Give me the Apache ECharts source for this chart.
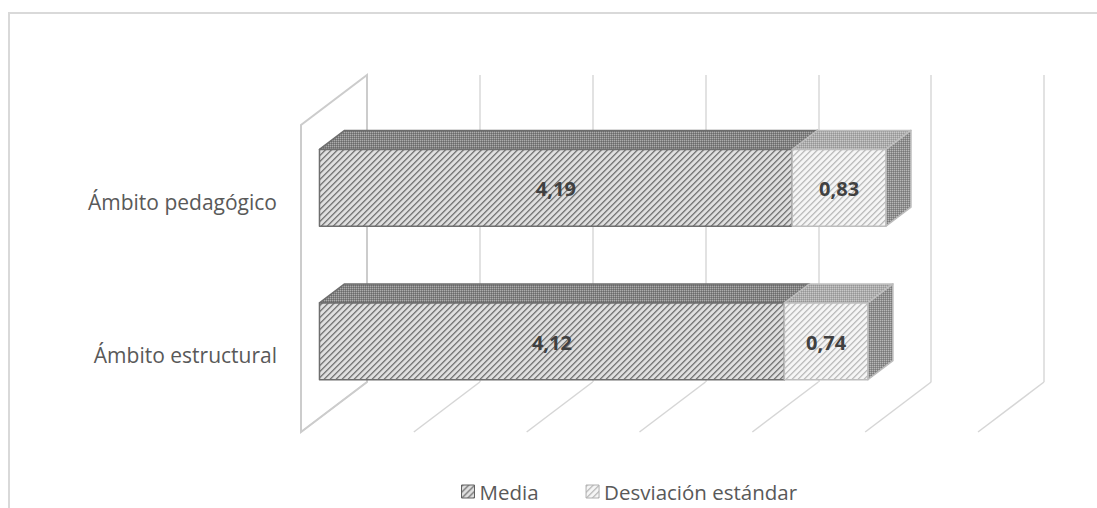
<!DOCTYPE html>
<html>
<head>
<meta charset="utf-8">
<script src="https://cdn.jsdelivr.net/npm/echarts@6/dist/echarts.min.js"></script>
<style>
  html, body { margin: 0; padding: 0; background: #ffffff; }
  #chart { width: 1097px; height: 508px; }
</style>
</head>
<body>
<div id="chart"></div>
<script>
// Chart data
const categories = ['Ámbito pedagógico', 'Ámbito estructural'];
const seriesNames = ['Media', 'Desviación estándar'];
const mediaValues = [4.19, 4.12];
const desviacionValues = [0.83, 0.74];
const valueTicks = [0, 1, 2, 3, 4, 5, 6];

// 3D projection: floor depth vector and the slice of depth occupied by the bars
const DEPTH_X = -66, DEPTH_Y = 50;
const BAR_FRONT = 0.72, BAR_BACK = 0.34;
const FONT = '"Open Sans", "Liberation Sans", sans-serif';

// Small bitmap tiles used as fill patterns
function makeTile(w, h, fn) {
  const c = document.createElement('canvas');
  c.width = w; c.height = h;
  const ctx = c.getContext('2d');
  const img = ctx.createImageData(w, h);
  for (let y = 0; y < h; y++) {
    for (let x = 0; x < w; x++) {
      const v = fn(x, y);
      const k = (y * w + x) * 4;
      img.data[k] = v; img.data[k + 1] = v; img.data[k + 2] = v; img.data[k + 3] = 255;
    }
  }
  ctx.putImageData(img, 0, 0);
  return { image: c, repeat: 'repeat' };
}
function stripes(levels) {
  return makeTile(6, 6, (x, y) => levels[(x + y) % 6]);
}
function dots(a, b, c) {
  return makeTile(4, 4, (x, y) => (x % 2 === 0 && y % 2 === 0) ? a : ((x + y) % 2 === 0 ? b : c));
}

const mediaFront = stripes([122, 150, 208, 224, 224, 210]);
const devFront = stripes([190, 206, 238, 246, 246, 238]);
const mediaTop = dots(172, 106, 132);
const devTop = dots(200, 150, 172);
const mediaSide = dots(170, 108, 132);
const devSide = dots(184, 120, 144);

function fmt(v) {
  return v.toFixed(2).replace('.', ',');
}

function boxRenderer(front, top, side, stroke) {
  return function (params, api) {
    const cat = api.value(2);
    const a = api.coord([api.value(0), cat]);
    const b = api.coord([api.value(1), cat]);
    const half = api.size([0, 1])[1] * 0.25;
    const fx = DEPTH_X * BAR_FRONT, fy = DEPTH_Y * BAR_FRONT;
    const dx = DEPTH_X * (BAR_BACK - BAR_FRONT), dy = DEPTH_Y * (BAR_BACK - BAR_FRONT);
    const x0 = a[0] + fx, x1 = b[0] + fx;
    const yT = a[1] + fy - half, yB = a[1] + fy + half;
    const edge = { stroke: stroke, lineWidth: 1.5, lineJoin: 'round' };
    return {
      type: 'group',
      children: [
        {
          type: 'polygon',
          shape: { points: [[x0, yT], [x1, yT], [x1 + dx, yT + dy], [x0 + dx, yT + dy]] },
          style: Object.assign({ fill: top }, edge)
        },
        {
          type: 'polygon',
          shape: { points: [[x1, yT], [x1 + dx, yT + dy], [x1 + dx, yB + dy], [x1, yB]] },
          style: Object.assign({ fill: side }, edge)
        },
        {
          type: 'rect',
          shape: { x: x0, y: yT, width: x1 - x0, height: yB - yT },
          style: Object.assign({ fill: front }, edge)
        },
        {
          type: 'text',
          x: (x0 + x1) / 2,
          y: (yT + yB) / 2 + 1,
          style: {
            text: fmt(api.value(3)),
            fill: '#404040',
            font: 'bold 20px ' + FONT,
            align: 'center',
            verticalAlign: 'middle'
          }
        }
      ]
    };
  };
}

// Side wall and floor lines of the 3D frame
function frameRenderer(params, api) {
  const cs = params.coordSys;
  const v = api.value(0);
  const x = api.coord([v, 0])[0];
  const bottom = cs.y + cs.height;
  const line = { stroke: '#d6d6d6', lineWidth: 1.5, fill: 'none' };
  const children = [{
    type: 'line',
    shape: { x1: x, y1: bottom, x2: x + DEPTH_X, y2: bottom + DEPTH_Y },
    style: line
  }];
  if (v === valueTicks[0]) {
    children.push({
      type: 'polygon',
      shape: { points: [[x, cs.y], [x, bottom], [x + DEPTH_X, bottom + DEPTH_Y], [x + DEPTH_X, cs.y + DEPTH_Y]] },
      style: { stroke: '#cccccc', lineWidth: 2, fill: 'none' }
    });
  }
  return { type: 'group', children: children };
}

// Category names, placed at the front edge of the floor
function categoryLabelRenderer(params, api) {
  const p = api.coord([0, api.value(1)]);
  return {
    type: 'text',
    x: p[0] + DEPTH_X - 24,
    y: p[1] + DEPTH_Y,
    style: {
      text: categories[api.value(1)],
      fill: '#595959',
      font: '21px ' + FONT,
      align: 'right',
      verticalAlign: 'middle'
    }
  };
}

const mediaData = mediaValues.map((v, i) => [0, v, i, v]);
const devData = desviacionValues.map((v, i) => [mediaValues[i], mediaValues[i] + v, i, v]);

const chart = echarts.init(document.getElementById('chart'), null, { renderer: 'svg' });
chart.setOption({
  animation: false,
  backgroundColor: '#ffffff',
  graphic: [{
    type: 'rect',
    shape: { x: 9, y: 13, width: 1200, height: 600 },
    style: { fill: 'none', stroke: '#d9d9d9', lineWidth: 2 },
    silent: true
  }],
  grid: { left: 367, right: 53, top: 75, bottom: 126 },
  xAxis: {
    type: 'value',
    min: valueTicks[0],
    max: valueTicks[valueTicks.length - 1],
    interval: 1,
    axisLine: { show: false },
    axisTick: { show: false },
    axisLabel: { show: false },
    splitLine: { show: true, lineStyle: { color: '#d9d9d9', width: 1.5 } }
  },
  yAxis: {
    type: 'category',
    data: categories,
    inverse: true,
    axisLine: { show: false },
    axisTick: { show: false },
    splitLine: { show: false },
    axisLabel: { show: false }
  },
  legend: {
    left: 456,
    top: 476,
    itemWidth: 13,
    itemHeight: 13,
    itemGap: 47,
    textStyle: { color: '#595959', fontSize: 20.5, fontFamily: FONT, padding: [0, 0, 0, 0] },
    data: [
      { name: seriesNames[0], icon: 'rect', itemStyle: { color: mediaFront, borderColor: '#606060', borderWidth: 1 } },
      { name: seriesNames[1], icon: 'rect', itemStyle: { color: devFront, borderColor: '#b0b0b0', borderWidth: 1 } }
    ]
  },
  series: [
    {
      type: 'custom',
      name: 'frame',
      silent: true,
      z: 1,
      renderItem: frameRenderer,
      encode: { x: 0 },
      data: valueTicks.map(v => [v])
    },
    {
      type: 'custom',
      name: 'categoryLabels',
      silent: true,
      z: 1,
      renderItem: categoryLabelRenderer,
      encode: { x: 0, y: 1 },
      data: categories.map((c, i) => [0, i])
    },
    {
      type: 'custom',
      name: seriesNames[0],
      z: 2,
      renderItem: boxRenderer(mediaFront, mediaTop, mediaSide, '#6e6e6e'),
      encode: { x: [0, 1], y: 2 },
      itemStyle: { color: '#8c8c8c' },
      data: mediaData
    },
    {
      type: 'custom',
      name: seriesNames[1],
      z: 3,
      renderItem: boxRenderer(devFront, devTop, devSide, '#bdbdbd'),
      encode: { x: [0, 1], y: 2 },
      itemStyle: { color: '#d0d0d0' },
      data: devData
    }
  ]
});
</script>
</body>
</html>
